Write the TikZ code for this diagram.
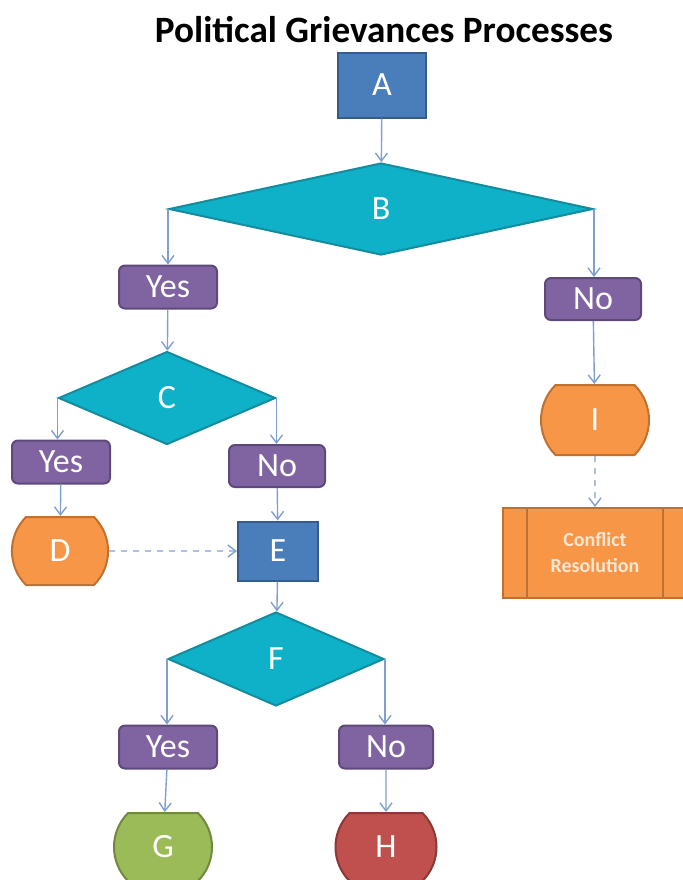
\documentclass[tikz,border=0pt]{standalone}
\usepackage{fontspec}
\setmainfont{Carlito}
\usetikzlibrary{shapes.geometric, shapes.misc, arrows.meta}

\definecolor{stepblue}{HTML}{4A7EBB}
\definecolor{stepblueline}{HTML}{345C8C}
\definecolor{askteal}{HTML}{0FB1C9}
\definecolor{asktealline}{HTML}{138C9E}
\definecolor{answerpurple}{HTML}{8064A2}
\definecolor{answerpurpleline}{HTML}{5E4A7A}
\definecolor{endorange}{HTML}{F79646}
\definecolor{endorangeline}{HTML}{C0702F}
\definecolor{endgreen}{HTML}{9BBB59}
\definecolor{endgreenline}{HTML}{71893F}
\definecolor{endred}{HTML}{C0504D}
\definecolor{endredline}{HTML}{8C3836}
\definecolor{flowline}{HTML}{7FA0CC}
\definecolor{crtext}{HTML}{FDE6D2}

\tikzset{
  base/.style={line width=1pt, text=white, inner sep=0pt, font=\fontsize{17}{19}\selectfont},
  stepbox/.style={base, rectangle, draw=stepblueline, fill=stepblue},
  askbox/.style={base, diamond, draw=asktealline, fill=askteal},
  answerbox/.style={base, rectangle, rounded corners=3pt, draw=answerpurpleline, fill=answerpurple,
    minimum width=49pt, minimum height=21.5pt},
  endbox/.style={base, rounded rectangle, rounded rectangle arc length=90, minimum height=34pt},
  procbox/.style={base, rectangle, draw=endorangeline, fill=endorange, text=crtext,
    font=\bfseries\fontsize{10}{13}\selectfont, align=center,
    path picture={
      \draw[endorangeline, line width=1pt]
        ([xshift=12pt]path picture bounding box.north west) -- ([xshift=12pt]path picture bounding box.south west)
        ([xshift=-12pt]path picture bounding box.north east) -- ([xshift=-12pt]path picture bounding box.south east);
    }},
  flow/.style={draw=flowline, line width=0.7pt, -{Straight Barb[length=4pt, width=6pt]}}
}

\begin{document}
\begin{tikzpicture}[x=0.5pt, y=-0.5pt]
  \useasboundingbox (0, 0) rectangle (683, 880);

  \node[anchor=base, font=\bfseries\fontsize{18.6}{22}\selectfont] (title) at (384, 42) {Political Grievances Processes};

  \node[stepbox, minimum width=44pt, minimum height=32.5pt] (A) at (382, 85) {A};
  \node[askbox, minimum width=212pt, minimum height=46pt] (B) at (381, 209) {B};
  \node[answerbox] (yesB) at (168, 287) {Yes};
  \node[answerbox, minimum width=48pt, minimum height=21pt] (noB) at (593, 299) {No};

  \node[askbox, minimum width=108.5pt, minimum height=46.5pt] (C) at (167, 398) {C};
  \node[answerbox] (yesC) at (61, 462) {Yes};
  \node[answerbox, minimum width=48pt, minimum height=21pt] (noC) at (277, 466) {No};
  \node[endbox, draw=endorangeline, fill=endorange, minimum width=47.5pt] (D) at (60, 551) {D};
  \node[stepbox, minimum width=40pt, minimum height=29.5pt] (E) at (278, 551) {E};

  \node[askbox, minimum width=108pt, minimum height=47pt] (F) at (276, 659) {F};
  \node[answerbox] (yesF) at (168, 747) {Yes};
  \node[answerbox, minimum width=47pt, minimum height=21.5pt] (noF) at (386, 747) {No};
  \node[endbox, draw=endgreenline, fill=endgreen, minimum width=49pt] (G) at (163, 847) {G};
  \node[endbox, draw=endredline, fill=endred, minimum width=50.5pt] (H) at (386, 847) {H};

  \node[endbox, draw=endorangeline, fill=endorange, minimum width=54pt, minimum height=35pt] (I) at (595, 420) {I};
  \node[procbox, minimum width=92pt, minimum height=45pt] (CR) at (595, 553) {Conflict\\Resolution};

  % connectors
  \draw[flow] (A) -- (B);
  \draw[flow] (B.west) -- (B.west |- yesB.north);
  \draw[flow] (B.east) -- (B.east |- noB.north);
  \draw[flow] (yesB) -- (C);
  \draw[flow] (C.west) -- (C.west |- yesC.north);
  \draw[flow] (C.east) -- (C.east |- noC.north);
  \draw[flow] (yesC) -- (D);
  \draw[flow] (noC) -- (E);
  \draw[flow, dashed] (D) -- (E);
  \draw[flow] (E) -- (F);
  \draw[flow] (F.west) -- (F.west |- yesF.north);
  \draw[flow] (F.east) -- (F.east |- noF.north);
  \draw[flow] (yesF) -- (G);
  \draw[flow] (noF) -- (H);
  \draw[flow] (noB) -- (I);
  \draw[flow, dashed] (I) -- (CR);
\end{tikzpicture}
\end{document}
